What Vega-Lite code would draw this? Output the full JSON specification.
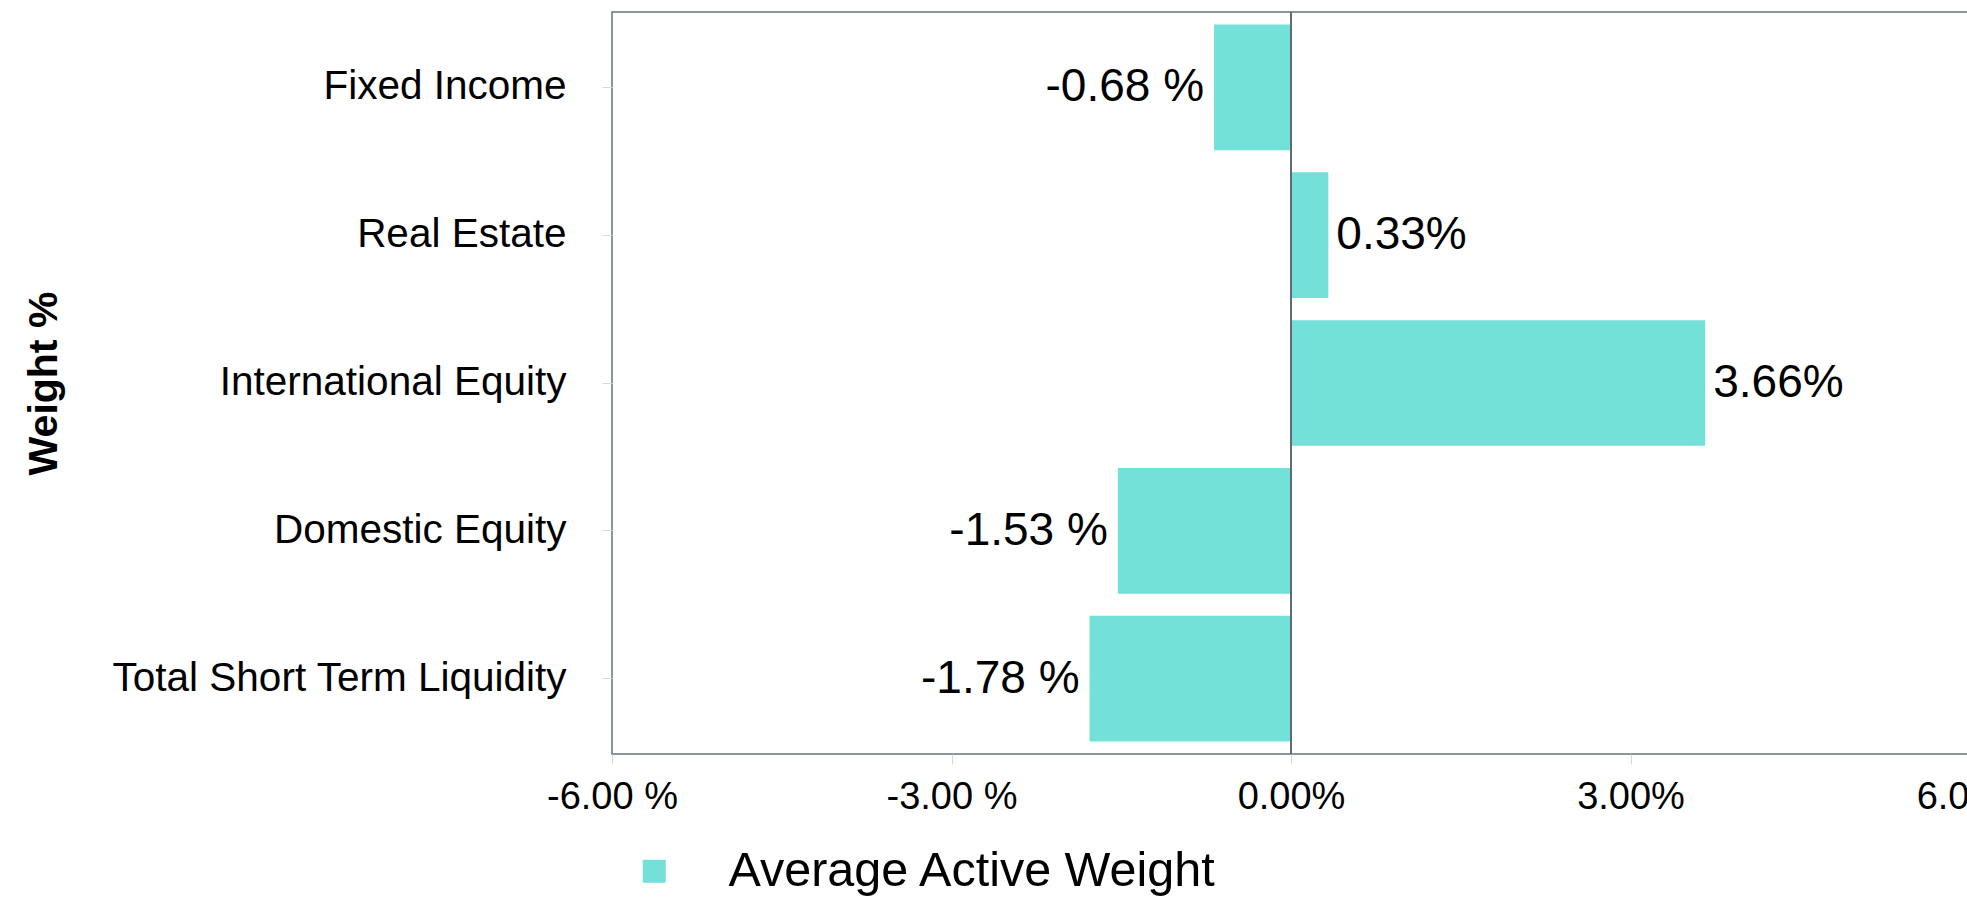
{
  "$schema": "https://vega.github.io/schema/vega-lite/v6.json",
  "width": 1358,
  "height": 742,
  "autosize": {"type": "none"},
  "padding": {"left": 612, "top": 12, "right": 0, "bottom": 152},
  "background": "white",
  "config": {
    "font": "Liberation Sans",
    "view": {"stroke": "#66737f", "strokeWidth": 1.5}
  },
  "data": {
    "values": [
      {"category": "Fixed Income", "value": -0.68, "label": "-0.68 %", "series": "Average Active Weight"},
      {"category": "Real Estate", "value": 0.33, "label": "0.33%", "series": "Average Active Weight"},
      {"category": "International Equity", "value": 3.66, "label": "3.66%", "series": "Average Active Weight"},
      {"category": "Domestic Equity", "value": -1.53, "label": "-1.53 %", "series": "Average Active Weight"},
      {"category": "Total Short Term Liquidity", "value": -1.78, "label": "-1.78 %", "series": "Average Active Weight"}
    ]
  },
  "encoding": {
    "y": {
      "field": "category",
      "type": "nominal",
      "sort": ["Fixed Income", "Real Estate", "International Equity", "Domestic Equity", "Total Short Term Liquidity"],
      "scale": {"paddingInner": 0.15, "paddingOuter": 0.085},
      "axis": {
        "title": "Weight %",
        "titleFont": "Liberation Sans",
        "titleFontWeight": "bold",
        "titleFontSize": 41,
        "titleColor": "black",
        "titleAngle": -90,
        "titleX": -568,
        "titleY": 371,
        "titleAlign": "center",
        "titleBaseline": "middle",
        "domain": false,
        "ticks": true,
        "tickColor": "#d8d8d8",
        "tickSize": 10,
        "labelFontSize": 40.5,
        "labelColor": "black",
        "labelPadding": 36,
        "labelLimit": 700
      }
    }
  },
  "layer": [
    {
      "mark": {"type": "bar"},
      "encoding": {
        "x": {
          "field": "value",
          "type": "quantitative",
          "scale": {"domain": [-6, 6], "nice": false, "zero": false},
          "axis": {
            "title": null,
            "values": [-6, -3, 0, 3, 6],
            "labelExpr": "datum.value < 0 ? '-' + format(abs(datum.value), '.2f') + ' %' : format(datum.value, '.2f') + '%'",
            "grid": false,
            "domain": false,
            "tickColor": "#d8d8d8",
            "tickSize": 10,
            "labelFontSize": 38,
            "labelColor": "black",
            "labelPadding": 14,
            "labelFlush": false,
            "labelOverlap": false
          }
        },
        "color": {
          "field": "series",
          "type": "nominal",
          "scale": {"range": ["#74E1D9"]},
          "legend": {
            "title": null,
            "orient": "none",
            "legendX": 18,
            "legendY": 835,
            "symbolType": "square",
            "symbolSize": 529,
            "symbolStrokeWidth": 0,
            "labelFontSize": 48.5,
            "labelColor": "black",
            "labelOffset": 50,
            "labelLimit": 900
          }
        }
      }
    },
    {
      "mark": {"type": "rule", "color": "#5f6b76", "strokeWidth": 1.5},
      "encoding": {"x": {"datum": 0, "type": "quantitative"}, "y": null}
    },
    {
      "transform": [{"filter": "datum.value < 0"}],
      "mark": {"type": "text", "align": "right", "baseline": "middle", "dx": -10, "fontSize": 46, "color": "black"},
      "encoding": {
        "x": {"field": "value", "type": "quantitative"},
        "text": {"field": "label"}
      }
    },
    {
      "transform": [{"filter": "datum.value >= 0"}],
      "mark": {"type": "text", "align": "left", "baseline": "middle", "dx": 8, "fontSize": 46, "color": "black"},
      "encoding": {
        "x": {"field": "value", "type": "quantitative"},
        "text": {"field": "label"}
      }
    }
  ]
}
